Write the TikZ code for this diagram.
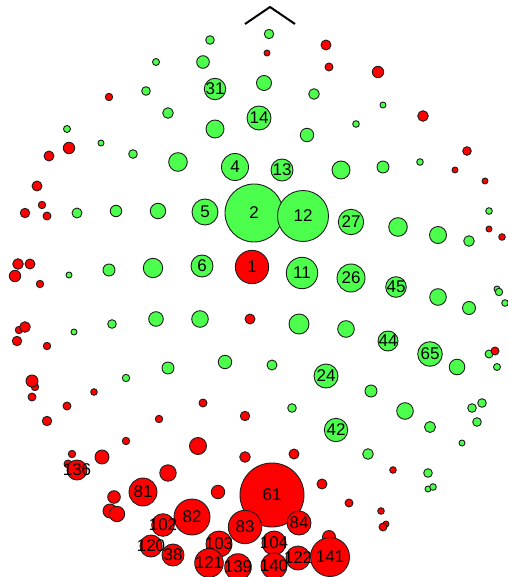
\documentclass[tikz,border=0pt]{standalone}
\usepackage{fontspec}
\setmainfont{Liberation Sans}
\definecolor{gcol}{RGB}{77,255,77}
\definecolor{rcol}{RGB}{255,0,0}
\definecolor{edgecol}{RGB}{30,30,30}
\tikzset{
  gdot/.style={fill=gcol,draw=edgecol,line width=0.9pt},
  rdot/.style={fill=rcol,draw=edgecol,line width=0.9pt},
  lab/.style={font=\fontsize{17}{17}\selectfont,inner sep=0pt,text=black},
  nose/.style={draw=black,line width=2pt}
}
\newcommand\gcirc[3]{\path[gdot] (#1,#2) circle[radius=#3pt];}
\newcommand\rcirc[3]{\path[rdot] (#1,#2) circle[radius=#3pt];}
\newcommand\lbl[3]{\node[lab] at (#1,#2) {#3};}
\begin{document}
\begin{tikzpicture}[x=1pt,y=-1pt]
\useasboundingbox (0,0) rectangle (507,577);
\coordinate (nl) at (245,24);
\coordinate (nt) at (270,7);
\coordinate (nr) at (295,24);
\draw[nose] (nl) -- (nt) -- (nr);
% green
\gcirc{210}{40}{4.3}
\gcirc{269}{34}{4.7}
\gcirc{156}{62}{3.5}
\gcirc{203}{62}{6.3}
\gcirc{215}{89}{10.7}\lbl{215}{89}{31}
\gcirc{264}{83}{7.5}
\gcirc{146}{91}{4.3}
\gcirc{314}{94}{5.3}
\gcirc{383}{105}{3}
\gcirc{168}{113}{5.3}
\gcirc{259}{118}{12}\lbl{259}{118}{14}
\gcirc{356}{124}{3.3}
\gcirc{67}{129}{3.5}
\gcirc{215}{129}{9}
\gcirc{307}{135}{6.7}
\gcirc{101}{143}{3}
\gcirc{133}{154}{4.3}
\gcirc{420}{162}{3.3}
\gcirc{178}{162}{9.3}
\gcirc{235}{167}{13.5}\lbl{235}{167}{4}
\gcirc{282}{170}{11}\lbl{282}{170}{13}
\gcirc{341}{170}{9}
\gcirc{383}{167}{6}
\gcirc{77}{213}{5}
\gcirc{116}{211}{5.7}
\gcirc{158}{211}{7.7}
\gcirc{205}{212}{13}\lbl{205}{212}{5}
\gcirc{254}{213}{29}\lbl{254}{213}{2}
\gcirc{303}{216}{25.5}\lbl{303}{216}{12}
\gcirc{351}{222}{12.7}\lbl{351}{222}{27}
\gcirc{398}{227}{9.3}
\gcirc{438}{235}{8.5}
\gcirc{469}{241}{5.3}
\gcirc{489}{211}{3.3}
\gcirc{69}{275}{3}
\gcirc{109}{270}{6}
\gcirc{153}{268}{9.7}
\gcirc{202}{266}{11}\lbl{202}{266}{6}
\gcirc{302}{273}{15.7}\lbl{302}{273}{11}
\gcirc{351}{278}{14}\lbl{351}{278}{26}
\gcirc{396}{287}{10.3}\lbl{396}{287}{45}
\gcirc{438}{297}{8.3}
\gcirc{469}{308}{6.5}
\gcirc{497}{289}{3}
\gcirc{499}{292}{3.7}
\gcirc{505}{303}{3.3}
\gcirc{74}{332}{3}
\gcirc{112}{324}{4.3}
\gcirc{156}{319}{7.3}
\gcirc{200}{319}{8.3}
\gcirc{299}{324}{10}
\gcirc{346}{329}{8.3}
\gcirc{388}{341}{10}\lbl{388}{341}{44}
\gcirc{430}{354}{12.3}\lbl{430}{354}{65}
\gcirc{457}{367}{7.8}
\gcirc{489}{354}{4}
\gcirc{497}{367}{3.5}
\gcirc{126}{378}{3.7}
\gcirc{168}{368}{6}
\gcirc{225}{362}{6.7}
\gcirc{272}{365}{5}
\gcirc{326}{376}{12}\lbl{326}{376}{24}
\gcirc{371}{391}{6}
\gcirc{405}{411}{8.3}
\gcirc{292}{408}{4.3}
\gcirc{336}{430}{11.7}\lbl{336}{430}{42}
\gcirc{430}{427}{5.5}
\gcirc{472}{408}{4.3}
\gcirc{482}{403}{4.3}
\gcirc{477}{422}{4.3}
\gcirc{462}{443}{3}
\gcirc{368}{454}{5.3}
\gcirc{428}{473}{4.3}
\gcirc{428}{489}{3}
\gcirc{433}{487}{3.3}
% red
\rcirc{326}{45}{5}
\rcirc{267}{53}{3}
\rcirc{329}{67}{4}
\rcirc{378}{72}{5.7}
\rcirc{109}{97}{3.7}
\rcirc{423}{116}{5.3}
\rcirc{69}{148}{5.7}
\rcirc{49}{156}{5}
\rcirc{467}{151}{4.3}
\rcirc{455}{170}{3}
\rcirc{485}{181}{3}
\rcirc{37}{186}{5}
\rcirc{42}{205}{3.7}
\rcirc{25}{213}{4.7}
\rcirc{47}{216}{4}
\rcirc{489}{229}{3}
\rcirc{502}{237}{3.3}
\rcirc{18}{264}{5.3}
\rcirc{30}{264}{5}
\rcirc{15}{276}{5.7}
\rcirc{40}{284}{3.7}
\rcirc{252}{267}{16.7}\lbl{252}{267}{1}
\rcirc{19}{330}{3.7}
\rcirc{25}{327}{5.3}
\rcirc{17}{341}{4.7}
\rcirc{47}{346}{3.7}
\rcirc{250}{319}{5}
\rcirc{495}{351}{4}
\rcirc{35}{387}{3.7}
\rcirc{32}{381}{6}
\rcirc{32}{397}{4}
\rcirc{94}{392}{3.3}
\rcirc{67}{406}{4}
\rcirc{203}{403}{4}
\rcirc{159}{419}{3.7}
\rcirc{245}{416}{4.7}
\rcirc{47}{421}{4.7}
\rcirc{126}{441}{3.7}
\rcirc{72}{454}{3.7}
\rcirc{198}{446}{8.5}
\rcirc{245}{457}{5.3}
\rcirc{294}{454}{5}
\rcirc{393}{470}{3.3}
\rcirc{102}{457}{7}
\rcirc{68}{464}{4}
\rcirc{77}{470}{10}\lbl{77}{470}{136}
\rcirc{168}{473}{8.2}
\rcirc{272}{495}{32}\lbl{272}{495}{61}
\rcirc{322}{484}{5}
\rcirc{349}{503}{4}
\rcirc{381}{511}{3.3}
\rcirc{386}{524}{3}
\rcirc{383}{527}{4}
\rcirc{143}{492}{14}\lbl{143}{492}{81}
\rcirc{218}{492}{6.7}
\rcirc{114}{497}{6.3}
\rcirc{110}{511}{7}
\rcirc{117}{514}{7.7}
\rcirc{192}{517}{18}\lbl{192}{517}{82}
\rcirc{163}{525}{11.3}\lbl{163}{525}{102}
\rcirc{245}{527}{16.7}\lbl{245}{527}{83}
\rcirc{299}{523}{12}\lbl{299}{523}{84}
\rcirc{151}{546}{11}\lbl{151}{546}{120}
\rcirc{173}{555}{11}\lbl{173}{555}{38}
\rcirc{219}{544}{13}\lbl{219}{544}{103}
\rcirc{274}{543}{12}\lbl{274}{543}{104}
\rcirc{329}{537}{6.5}
\rcirc{298}{558}{12}\lbl{298}{558}{122}
\rcirc{330}{557}{19.5}\lbl{330}{557}{141}
\rcirc{209}{563}{14.3}\lbl{209}{563}{121}
\rcirc{238}{567}{13.3}\lbl{238}{567}{139}
\rcirc{274}{566}{13}\lbl{274}{566}{140}
\end{tikzpicture}
\end{document}
